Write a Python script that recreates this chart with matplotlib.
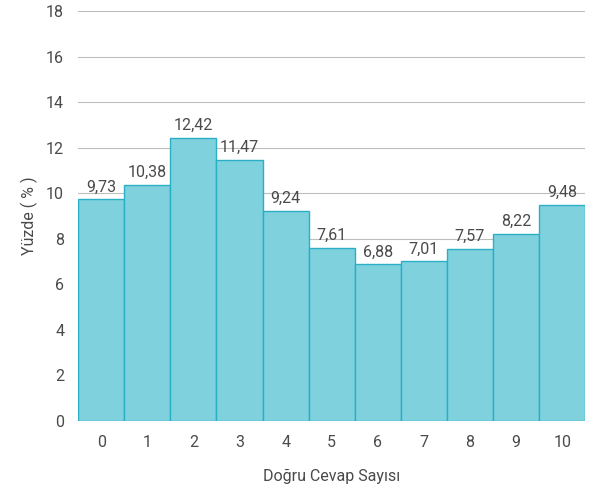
import matplotlib.pyplot as plt

cevap = list(range(11))
yuzde = [9.73, 10.38, 12.42, 11.47, 9.24, 7.61, 6.88, 7.01, 7.57, 8.22, 9.48]
etiketler = ["9,73", "10,38", "12,42", "11,47", "9,24", "7,61", "6,88", "7,01", "7,57", "8,22", "9,48"]

plt.rcParams['font.family'] = ['Roboto', 'DejaVu Sans']
text_color = '#4a4a4a'

fig = plt.figure(figsize=(5.96, 4.98), dpi=100)
ax = fig.add_axes([0.131, 0.1546, 0.851, 0.823])

ax.bar(cevap, yuzde, width=1.0, color='#7fd1de', edgecolor='#2ab0c4', linewidth=1, zorder=3)
for x, y, t in zip(cevap, yuzde, etiketler):
    ax.text(x, y + 0.22, t, ha='center', va='bottom', fontsize=11.5, color=text_color, zorder=4)

ax.set_xlim(-0.5, 10.5)
ax.set_ylim(0, 18)
ax.set_yticks(range(0, 19, 2))
ax.set_xticks(cevap)
ax.grid(axis='y', color='#bdbdbd', linewidth=0.8, zorder=0)
for s in ax.spines.values():
    s.set_visible(False)
ax.tick_params(length=0, labelsize=11.5, labelcolor=text_color)
ax.tick_params(axis='y', pad=10)
ax.tick_params(axis='x', pad=10)
ax.set_xlabel('Doğru Cevap Sayısı', fontsize=11.5, color=text_color, labelpad=14)
ax.set_ylabel('Yüzde ( % )', fontsize=11.5, color=text_color, labelpad=6)

fig.savefig('out.png', dpi=100)
